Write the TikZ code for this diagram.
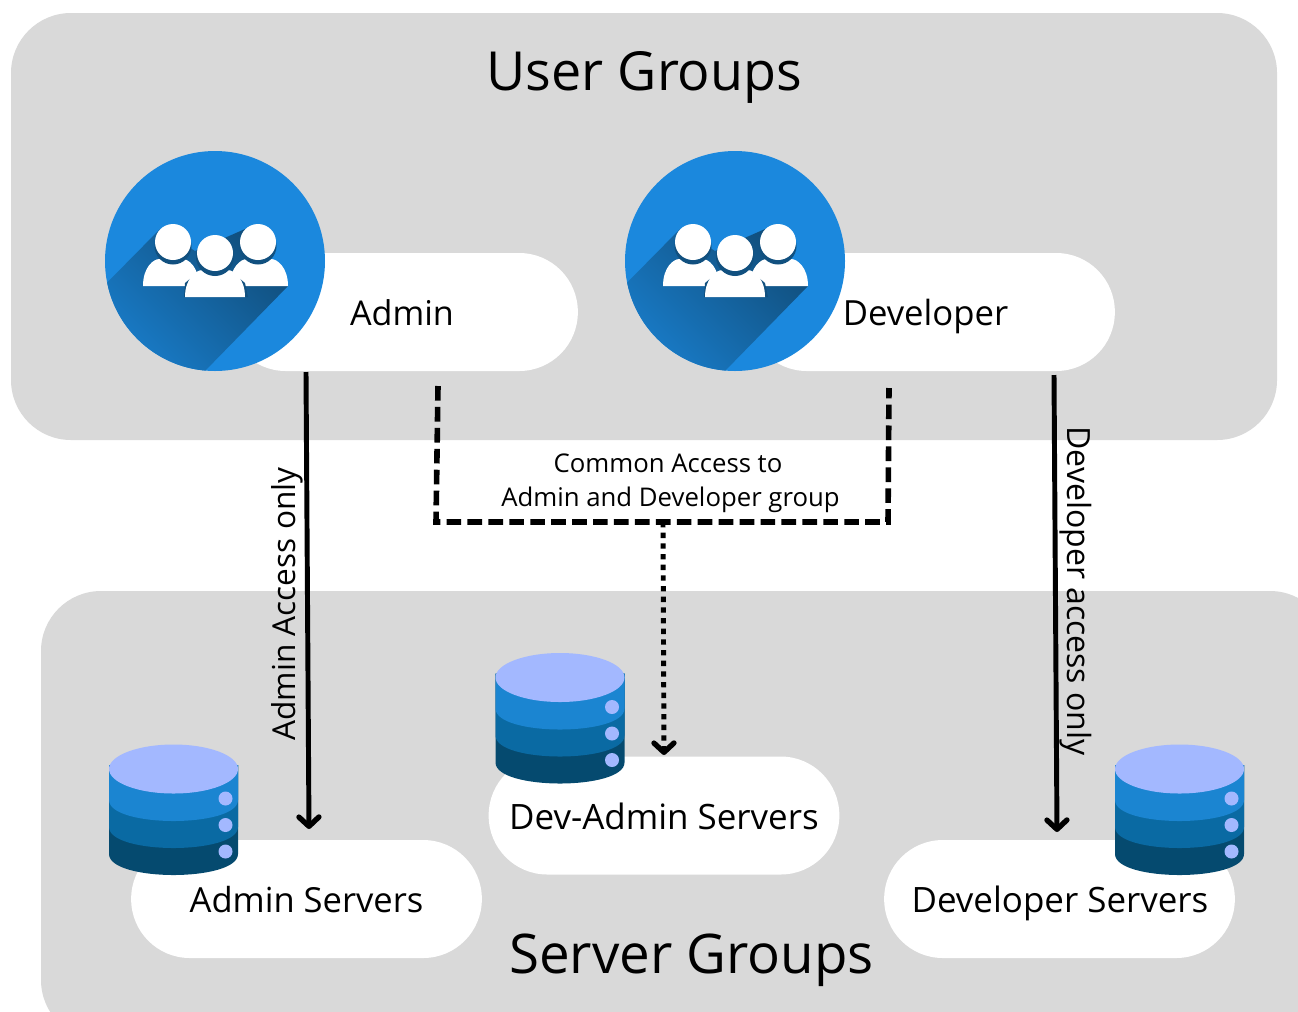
\documentclass[tikz,border=0pt]{standalone}
\usepackage{fontspec}
\setmainfont{Open Sans}
\usetikzlibrary{arrows.meta,shadings}
\definecolor{panel}{HTML}{D9D9D9}
\definecolor{iconblue}{HTML}{1B88DD}
\definecolor{icondark}{HTML}{11507F}
\definecolor{dbtop}{HTML}{A3B8FF}
\definecolor{dbone}{HTML}{1B85D1}
\definecolor{dbtwo}{HTML}{0A6AA3}
\definecolor{dbthree}{HTML}{054A6F}
\tikzset{
  panelbox/.style={fill=panel,draw=none,rounded corners=45pt},
  pill/.style={rectangle,fill=white,draw=none,rounded corners=44pt,minimum height=88.5pt,minimum width=263pt,inner sep=0pt},
  label/.style={text=black,inner sep=0pt,anchor=base},
  conn/.style={line width=3.7pt,black},
  solidarrow/.style={conn,-{Straight Barb[length=7pt,width=15pt,line width=4pt,round]}},
  dashline/.style={conn,line width=4.2pt,dash pattern=on 11pt off 4.7pt},
  dotarrow/.style={conn,dash pattern=on 4pt off 4pt,-{Straight Barb[length=7pt,width=15pt,line width=4pt,round]}},
}
\newcommand{\bodydome}[4]{% x, bottom y, half width, height
  \fill[white] (#1-#3,#2) .. controls (#1-#3,#2-#4*.7) and (#1-#3*.62,#2-#4) .. (#1-#3*.42,#2-#4)
    -- (#1+#3*.42,#2-#4) .. controls (#1+#3*.62,#2-#4) and (#1+#3,#2-#4*.7) .. (#1+#3,#2) -- cycle;}
\newcommand{\groupicon}[2]{%
\begin{scope}[shift={(#1,#2)}]
  \fill[iconblue] (0,0) circle[radius=110];
  \begin{scope}
    \clip (0,0) circle[radius=110];
    \shade[top color=icondark,middle color=icondark!88!iconblue,bottom color=iconblue!85!icondark,shading angle=-45]
      (-125,39) -- (-55,-32) -- (-20,-10) -- (30,-32) -- (73,25) -- (-12,112) -- (-12,125) -- (-125,125) -- cycle;
  \end{scope}
  \bodydome{-44}{25}{28}{27}
  \bodydome{44}{25}{29}{27}
  \fill[icondark] (-31,36) -- (-30,22) -- (-12,7) -- (12,7) -- (30,22) -- (33,36) -- cycle;
  \bodydome{0}{36}{30}{27}
  \fill[icondark] (-42,-15) circle[radius=18.5];
  \fill[icondark] (43,-15) circle[radius=18.5];
  \fill[icondark] (0,-4) circle[radius=19];
  \fill[white] (-42,-19) circle[radius=18];
  \fill[white] (43,-19) circle[radius=18];
  \fill[white] (0,-8) circle[radius=18];
\end{scope}}
\newcommand{\dbband}[2]{% colour, side y
  \fill[#1] (-64.5,-4) -- (64.5,-4) -- (64.5,#2) .. controls (64.5,#2+14) and (32,#2+21) .. (0,#2+21)
    .. controls (-32,#2+21) and (-64.5,#2+14) .. (-64.5,#2) -- cycle;}
\newcommand{\dbicon}[2]{%
\begin{scope}[shift={(#1,#2)}]
  \dbband{dbthree}{85}
  \dbband{dbtwo}{58}
  \dbband{dbone}{31}
  \fill[dbtop] (0,0) ellipse[x radius=64.5,y radius=24.5];
  \fill[dbtop] (52,29.5) circle[radius=7];
  \fill[dbtop] (52,56) circle[radius=7];
  \fill[dbtop] (52,82.5) circle[radius=7];
\end{scope}}
\begin{document}
\begin{tikzpicture}[x=0.75pt,y=-0.75pt]
\path[use as bounding box,fill=white] (0,0) rectangle (1298,1011);
\begin{scope}
\clip (0,0) rectangle (1298,1011);
\path[panelbox] (11,13) rectangle (1277,440);
\path[panelbox] (41,591) rectangle (1330,1040);
\end{scope}
% pills
\node[pill] (adminpill) at (402.5,312) {};
\node[pill,minimum width=275pt] (devpill) at (931.5,312) {};
\node[pill] (devadminpill) at (664,815.5) {};
\node[pill] (adminsrvpill) at (306.5,899) {};
\node[pill] (devsrvpill) at (1059.5,899) {};
% icons
\groupicon{215}{261}
\groupicon{735}{261}
\dbicon{173.5}{769}
\dbicon{560}{677.5}
\dbicon{1179.5}{769}
% titles
\node[label,font=\fontsize{40.4}{44}\selectfont] (usertitle) at (644.5,90.5) {User Groups};
\node[label,font=\fontsize{41}{44}\selectfont] (servertitle) at (691.5,973.5) {Server Groups};
% labels
\node[label,font=\fontsize{25.6}{28}\selectfont] (adminlabel) at (402,325) {Admin};
\node[label,font=\fontsize{26}{28}\selectfont] (devlabel) at (925.5,325) {Developer};
\node[label,font=\fontsize{26.2}{28}\selectfont] (devadminlabel) at (664,829) {Dev-Admin Servers};
\node[label,font=\fontsize{25.9}{28}\selectfont] (adminsrvlabel) at (306.5,912) {Admin Servers};
\node[label,font=\fontsize{26.2}{28}\selectfont] (devsrvlabel) at (1060,912) {Developer Servers};
% connector end points
\coordinate (a1) at (306,372);
\coordinate (a2) at (309,829);
\coordinate (d1) at (1054,375);
\coordinate (d2) at (1057,832);
\coordinate (c1) at (438,386);
\coordinate (c2) at (436,522);
\coordinate (c3) at (888,522);
\coordinate (c4) at (889,388);
\coordinate (m1) at (663,522);
\coordinate (m2) at (664,755);
\draw[solidarrow] (a1) -- (a2);
\draw[solidarrow] (d1) -- (d2);
\draw[dashline] (c1) -- (c2) -- (c3) -- (c4);
\draw[dotarrow] (m1) -- (m2);
% connector labels
\node[label,font=\fontsize{19.3}{25.6}\selectfont] (commona) at (668,472) {Common Access to};
\node[label,font=\fontsize{19.3}{25.6}\selectfont] (commonb) at (670.5,506) {Admin and Developer group};
\node[text=black,inner sep=0pt,font=\fontsize{23.7}{28}\selectfont,rotate=90] (adminonly) at (287,604) {Admin Access only};
\node[text=black,inner sep=0pt,font=\fontsize{24}{28}\selectfont,rotate=-90] (devonly) at (1076,591) {Developer access only};
\end{tikzpicture}
\end{document}
